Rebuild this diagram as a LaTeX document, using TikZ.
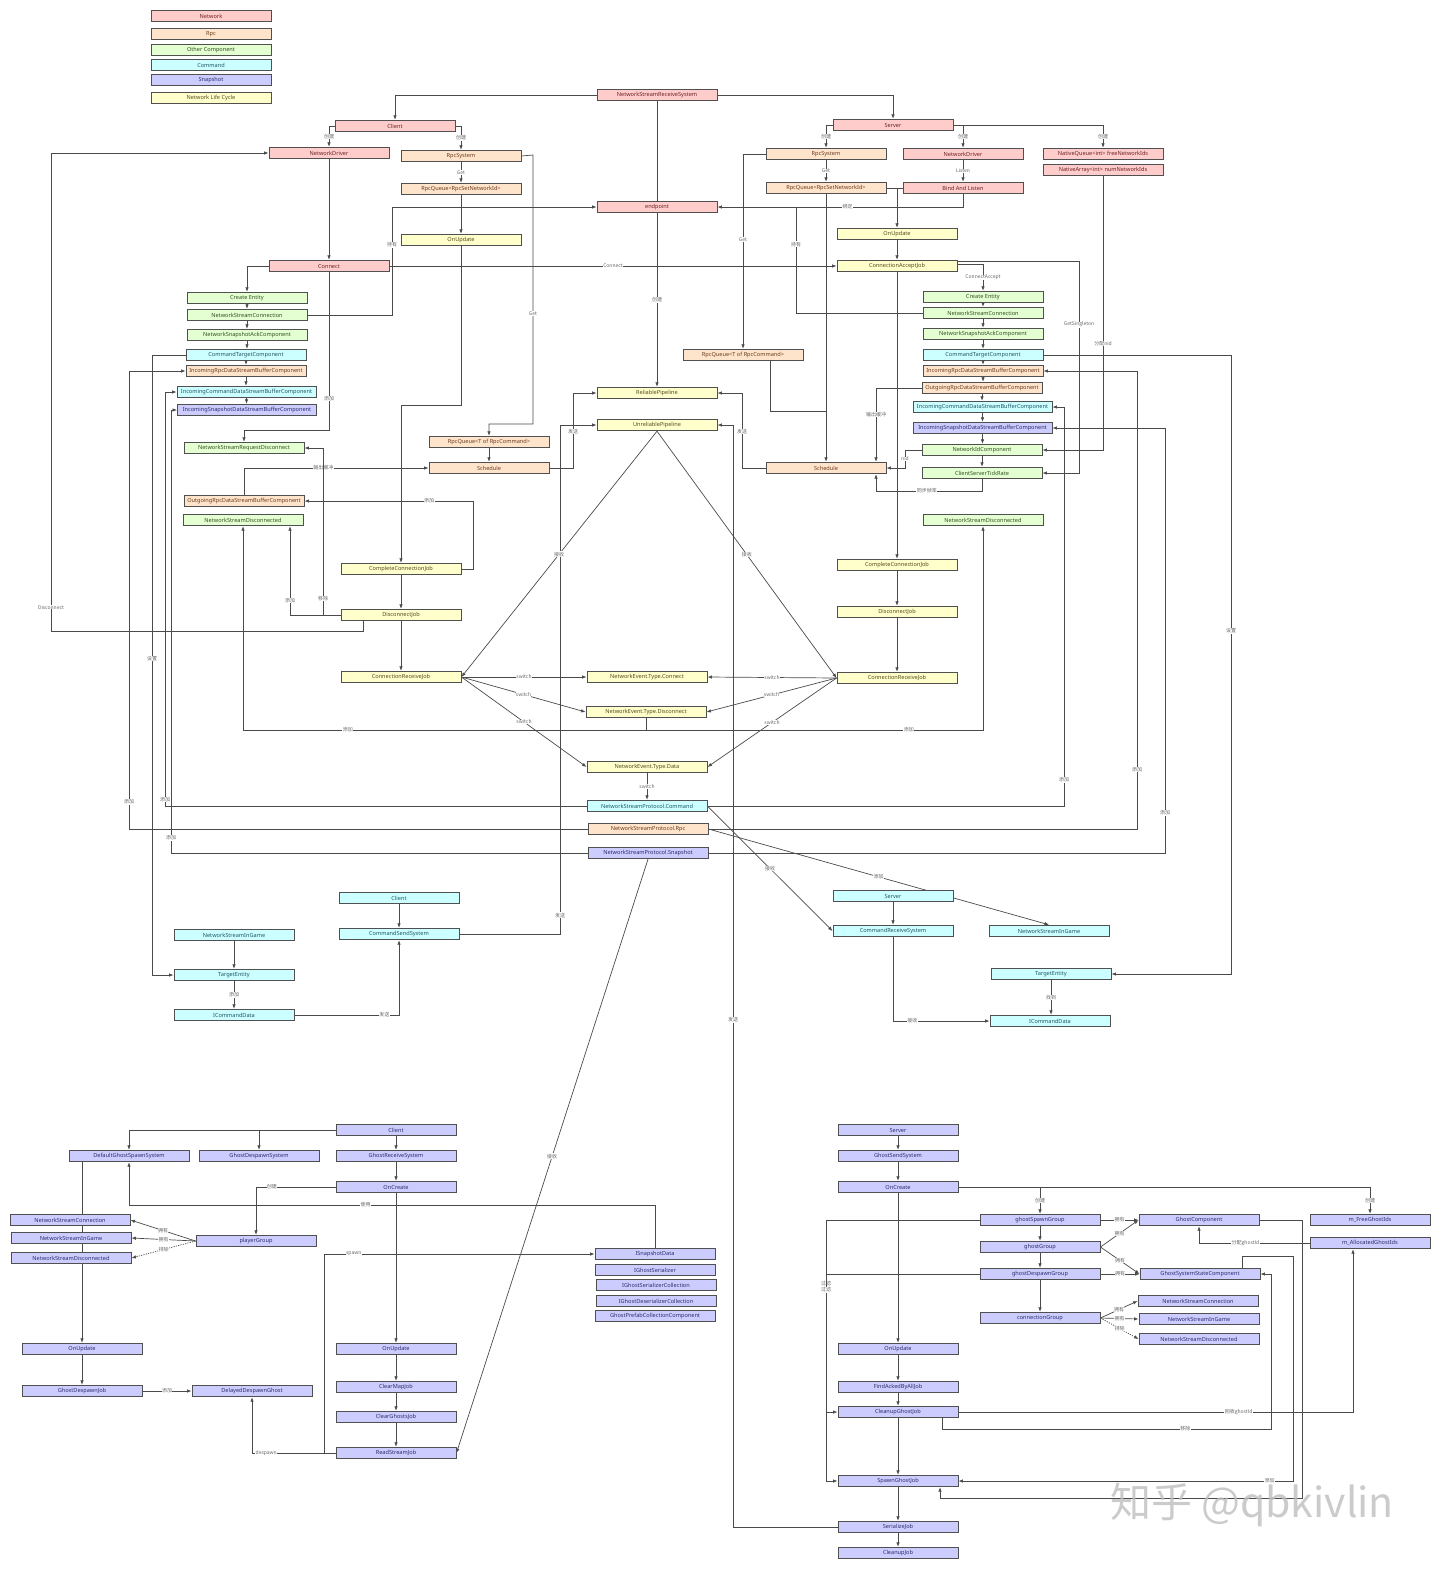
\documentclass[tikz,border=0pt]{standalone}
\usepackage{fontspec}
\setmainfont{Noto Sans}
\newfontfamily\cjk{Noto Sans CJK SC}
\usetikzlibrary{arrows.meta,backgrounds}
\definecolor{netF}{HTML}{FFCCCC}
\definecolor{rpcF}{HTML}{FFE4CC}
\definecolor{othF}{HTML}{E4FFD2}
\definecolor{cmdF}{HTML}{CCFFFF}
\definecolor{snapF}{HTML}{CCCCFF}
\definecolor{lifeF}{HTML}{FFFFCC}
\definecolor{netT}{HTML}{6B2020}
\definecolor{rpcT}{HTML}{6B3B1B}
\definecolor{othT}{HTML}{2F4F1F}
\definecolor{cmdT}{HTML}{1F5566}
\definecolor{snapT}{HTML}{2B2B6B}
\definecolor{lifeT}{HTML}{55491B}
\definecolor{boxc}{HTML}{505050}
\definecolor{linec}{HTML}{4A4A4A}
\definecolor{labc}{HTML}{666666}
\begin{document}
\begin{tikzpicture}[x=1pt,y=-1pt,
  box/.style={draw=boxc, line width=0.9pt, minimum width=120pt, minimum height=11.5pt, inner sep=0pt, font=\fontsize{5.6}{6}\selectfont},
  wide/.style={minimum width=139pt},
  net/.style={box, fill=netF, text=netT},
  rpc/.style={box, fill=rpcF, text=rpcT},
  oth/.style={box, fill=othF, text=othT},
  cmd/.style={box, fill=cmdF, text=cmdT},
  snap/.style={box, fill=snapF, text=snapT},
  life/.style={box, fill=lifeF, text=lifeT},
  ln/.style={draw=linec, line width=0.7pt},
  arr/.style={ln, -{Latex[length=4.5pt,width=3.5pt]}},
  darr/.style={arr, dash pattern=on 1.2pt off 1.2pt},
  lab/.style={font=\cjk\fontsize{5}{5.5}\selectfont, text=labc, fill=white, inner sep=0.4pt}
]
\useasboundingbox (0,0) rectangle (1440,1569);
% legend
\node[net] (lg1) at (211,16) {Network};
\node[rpc] (lg2) at (211,34) {Rpc};
\node[oth] (lg3) at (211,50) {Other Component};
\node[cmd] (lg4) at (211,65) {Command};
\node[snap] (lg5) at (211,80) {Snapshot};
\node[life] (lg6) at (211,98) {Network Life Cycle};
% top
\node[net] (nsrs) at (657,95) {NetworkStreamReceiveSystem};
\node[net] (client) at (395,126) {Client};
\node[net] (server) at (893,125) {Server};
\node[net] (cnd) at (329,153) {NetworkDriver};
\node[rpc] (crpc) at (461,156) {RpcSystem};
\node[rpc] (crq) at (461,189) {RpcQueue<RpcSetNetworkId>};
\node[life] (cupd) at (461,240) {OnUpdate};
\node[net] (endpoint) at (657,207) {endpoint};
\node[net] (cconnect) at (329,266) {Connect};
\node[oth] (cce) at (247,298) {Create Entity};
\node[oth] (cnsc) at (247,315) {NetworkStreamConnection};
\node[oth] (cack) at (247,335) {NetworkSnapshotAckComponent};
\node[cmd] (ccmdt) at (246,355) {CommandTargetComponent};
\node[rpc] (cinrpc) at (246,371) {IncomingRpcDataStreamBufferComponent};
\node[cmd,wide] (cincmd) at (246.5,392) {IncomingCommandDataStreamBufferComponent};
\node[snap,wide] (cinsnap) at (247,410) {IncomingSnapshotDataStreamBufferComponent};
\node[oth] (cnsrd) at (244,448) {NetworkStreamRequestDisconnect};
\node[rpc] (coutrpc) at (244,501) {OutgoingRpcDataStreamBufferComponent};
\node[oth] (cdisc) at (243,520) {NetworkStreamDisconnected};
\node[life] (cccj) at (401,569) {CompleteConnectionJob};
\node[life] (cdj) at (401,615) {DisconnectJob};
\node[life] (crcv) at (401,677) {ConnectionReceiveJob};
\node[rpc] (ccq) at (489,442) {RpcQueue<T of RpcCommand>};
\node[rpc] (cschd) at (489,468) {Schedule};
\node[life] (relp) at (657,393) {ReliablePipeline};
\node[life] (unrp) at (657,425) {UnreliablePipeline};
\node[rpc] (srcq) at (743,355) {RpcQueue<T of RpcCommand>};
\node[rpc] (sschd) at (826,468) {Schedule};
\node[life] (necon) at (647,677) {NetworkEvent.Type.Connect};
\node[life] (nedisc) at (646,712) {NetworkEvent.Type.Disconnect};
\node[life] (nedata) at (647,767) {NetworkEvent.Type.Data};
\node[cmd] (nspcmd) at (647,806) {NetworkStreamProtocol.Command};
\node[rpc] (nsprpc) at (648,829) {NetworkStreamProtocol.Rpc};
\node[snap] (nspsnap) at (648,853) {NetworkStreamProtocol.Snapshot};
\node[rpc] (srpc) at (826,154) {RpcSystem};
\node[rpc] (srq) at (826,188) {RpcQueue<RpcSetNetworkId>};
\node[net] (snd) at (963,154) {NetworkDriver};
\node[net] (bind) at (963,188) {Bind And Listen};
\node[net] (nq) at (1103,154) {NativeQueue<int> freeNetworkIds};
\node[net] (na) at (1103,170) {NativeArray<int> numNetworkIds};
\node[life] (supd) at (897,234) {OnUpdate};
\node[life] (sacc) at (897,266) {ConnectionAcceptJob};
\node[oth] (sce) at (983,297) {Create Entity};
\node[oth] (snsc) at (983,313) {NetworkStreamConnection};
\node[oth] (sack) at (983,334) {NetworkSnapshotAckComponent};
\node[cmd] (scmdt) at (983,355) {CommandTargetComponent};
\node[rpc] (sinrpc) at (983,371) {IncomingRpcDataStreamBufferComponent};
\node[rpc] (soutrpc) at (982,388) {OutgoingRpcDataStreamBufferComponent};
\node[cmd,wide] (sincmd) at (982.5,407) {IncomingCommandDataStreamBufferComponent};
\node[snap,wide] (sinsnap) at (982.5,428) {IncomingSnapshotDataStreamBufferComponent};
\node[oth] (snid) at (982,450) {NetworkIdComponent};
\node[oth] (stick) at (982,473) {ClientServerTickRate};
\node[oth] (sdisc) at (983,520) {NetworkStreamDisconnected};
\node[life] (sccj) at (897,565) {CompleteConnectionJob};
\node[life] (sdj) at (897,612) {DisconnectJob};
\node[life] (srcv) at (897,678) {ConnectionReceiveJob};
% command section
\node[cmd] (ccl) at (399,898) {Client};
\node[cmd] (csend) at (399,934) {CommandSendSystem};
\node[cmd] (cig) at (234,935) {NetworkStreamInGame};
\node[cmd] (ctgt) at (234,975) {TargetEntity};
\node[cmd] (cicd) at (234,1015) {ICommandData};
\node[cmd] (scmd) at (893,896) {Server};
\node[cmd] (crs) at (893,931) {CommandReceiveSystem};
\node[cmd] (sig) at (1049,931) {NetworkStreamInGame};
\node[cmd] (stgt) at (1051,974) {TargetEntity};
\node[cmd] (sicd) at (1050,1021) {ICommandData};
% ghost client
\node[snap] (gcl) at (396,1130) {Client};
\node[snap] (gdss) at (129,1156) {DefaultGhostSpawnSystem};
\node[snap] (gdsp) at (259,1156) {GhostDespawnSystem};
\node[snap] (grs) at (396,1156) {GhostReceiveSystem};
\node[snap] (gcoc) at (396,1187) {OnCreate};
\node[snap] (gnsc) at (70,1220) {NetworkStreamConnection};
\node[snap] (gnsig) at (71,1238) {NetworkStreamInGame};
\node[snap] (gnsd) at (71,1258) {NetworkStreamDisconnected};
\node[snap] (pg) at (256,1241) {playerGroup};
\node[snap] (gou) at (82,1349) {OnUpdate};
\node[snap] (gdj) at (82,1391) {GhostDespawnJob};
\node[snap] (ddg) at (252,1391) {DelayedDespawnGhost};
\node[snap] (gcou) at (396,1349) {OnUpdate};
\node[snap] (gcmj) at (396,1387) {ClearMapJob};
\node[snap] (gcgj) at (396,1417) {ClearGhostsJob};
\node[snap] (grsj) at (396,1453) {ReadStreamJob};
\node[snap] (isd) at (655,1254) {ISnapshotData};
\node[snap] (igs) at (655,1270) {IGhostSerializer};
\node[snap] (igsc) at (656,1285) {IGhostSerializerCollection};
\node[snap] (igdc) at (656,1301) {IGhostDeserializerCollection};
\node[snap] (gpcc) at (655,1316) {GhostPrefabCollectionComponent};
% ghost server
\node[snap] (gsv) at (898,1130) {Server};
\node[snap] (gss) at (898,1156) {GhostSendSystem};
\node[snap] (gsoc) at (898,1187) {OnCreate};
\node[snap] (gsou) at (898,1349) {OnUpdate};
\node[snap] (gfind) at (898,1387) {FindAckedByAllJob};
\node[snap] (gclean) at (898,1412) {CleanupGhostJob};
\node[snap] (gspawn) at (898,1481) {SpawnGhostJob};
\node[snap] (gser) at (898,1527) {SerializeJob};
\node[snap] (gcln) at (898,1553) {CleanupJob};
\node[snap] (gsg) at (1040,1220) {ghostSpawnGroup};
\node[snap] (gg) at (1040,1247) {ghostGroup};
\node[snap] (gdg) at (1040,1274) {ghostDespawnGroup};
\node[snap] (cg) at (1040,1318) {connectionGroup};
\node[snap] (gc) at (1199,1220) {GhostComponent};
\node[snap] (gssc) at (1200,1274) {GhostSystemStateComponent};
\node[snap] (gnsc2) at (1198,1301) {NetworkStreamConnection};
\node[snap] (gnsig2) at (1199,1319) {NetworkStreamInGame};
\node[snap] (gnsd2) at (1199,1339) {NetworkStreamDisconnected};
\node[snap] (mfree) at (1370,1220) {m\_FreeGhostIds};
\node[snap] (malloc) at (1370,1243) {m\_AllocatedGhostIds};

\begin{pgfonlayer}{background}
\fill[white] (0,0) rectangle (1440,1569);
% top network
\draw[arr] (nsrs.west) -| (client.north);
\draw[arr] (nsrs.east) -| (server.north);
\draw[ln] (nsrs.south) -- (endpoint.north);
\draw[arr] (endpoint.south) -- node[lab]{创建} (relp.north);
\draw[arr] (client.west) -- (329,126) -- node[lab]{创建} (cnd.north);
\draw[arr] (client.east) -- (461,126) -- node[lab]{创建} (crpc.north);
\draw[arr] (crpc.south) -- node[lab]{Get} (crq.north);
\draw[arr] (crq.south) -- (cupd.north);
\draw[arr] (cupd.south) -- (461,405) -- (401,405) -- (cccj.north);
\draw[arr] (cnd.south) -- (cconnect.north);
\draw[arr] ([xshift=-38pt]cdj.south) -- (363,631) -- (51,631) -- node[lab,pos=0.05]{Disconnect} (51,153) -- (cnd.west);
\draw[arr] (cconnect.west) -| (cce.north);
\draw[arr] (cconnect.east) -- node[lab,pos=0.5]{Connect} (sacc.west);
\draw[arr] (cconnect.south) -- node[lab,pos=0.8]{添加} (329,430) -| (cnsrd.north);
\foreach \a/\b in {cce/cnsc,cnsc/cack,cack/ccmdt,ccmdt/cinrpc,cinrpc/cincmd,cincmd/cinsnap}
  \draw[arr] (\a.south) -- (\a.south |- \b.north);
\draw[arr] (cnsc.east) -- (392,315) -- node[lab,pos=0.65]{持有} (392,207) -- (endpoint.west);
% server top
\draw[arr] (server.west) -- (826,125) -- node[lab]{创建} (srpc.north);
\draw[arr] (server.east) -- (963,125) -- node[lab]{创建} (snd.north);
\draw[arr] (963,125) -- (1103,125) -- node[lab]{创建} (nq.north);
\draw[arr] (srpc.south) -- node[lab]{Get} (srq.north);
\draw[arr] (snd.south) -- node[lab]{Listen} (bind.north);
\draw[ln] (srq.east) -- (bind.west);
\draw[arr] (897,188) -- (supd.north);
\draw[arr] (bind.south) -- (963,207) -- node[lab,pos=0.47]{绑定} (endpoint.east);
\draw[ln] (snsc.west) -- (796,313) -- node[lab,pos=0.65]{持有} (796,207);
\draw[arr] (supd.south) -- (sacc.north);
\draw[arr] ([yshift=2pt]sacc.east) -- (983,264) -- node[lab]{ConnectAccept} (sce.north);
\draw[arr] ([yshift=5pt]sacc.east) -- (1079,261) -- node[lab,pos=0.3]{GetSingleton} (1079,473) -- (stick.east);
\foreach \a/\b in {sce/snsc,snsc/sack,sack/scmdt,scmdt/sinrpc,sinrpc/soutrpc,soutrpc/sincmd,sincmd/sinsnap,sinsnap/snid,snid/stick}
  \draw[arr] (\a.south) -- (\a.south |- \b.north);
\draw[arr] (na.south) -- node[lab,pos=0.61]{分配nid} (1103,450) -- (snid.east);
\draw[arr] (scmdt.east) -- (1231,355) -- node[lab,pos=0.446]{设置} (1231,974) -- (stgt.east);
\draw[arr] (nsprpc.east) -- (1137,829) -- node[lab,pos=0.13]{添加} (1137,371) -- (sinrpc.east);
\draw[arr] (nspcmd.east) -- (1064,806) -- node[lab,pos=0.065]{添加} (1064,407) -- (sincmd.east);
\draw[arr] (nspsnap.east) -- (1165,853) -- node[lab,pos=0.094]{添加} (1165,428) -- (sinsnap.east);
\draw[arr] (soutrpc.west) -- (876,388) -- node[lab,pos=0.36]{输出缓冲} ([xshift=50pt]sschd.north);
\draw[arr] (snid.west) -- (905,450) -- node[lab]{nid} (905,468) -- (sschd.east);
\draw[arr] (stick.south) -- (982,491) -- node[lab,pos=0.52]{同步帧率} (876,491) -- ([xshift=50pt]sschd.south);
\draw[arr] (srq.south) -- (sschd.north);
\draw[ln] ([xshift=27pt]srcq.south) -- (770,411) -- (826,411);
\draw[arr] (srpc.west) -- (743,154) -- node[lab,pos=0.44]{Get} (srcq.north);
% rpc client
\draw[arr] (crpc.east) -- (533,155) -- node[lab,pos=0.59]{Get} (533,424) -- (489,424) -- (ccq.north);
\draw[arr] (ccq.south) -- (cschd.north);
\draw[arr] (cschd.east) -- (573,468) -- node[lab,pos=0.49]{发送} (573,393) -- (relp.west);
\draw[arr] (csend.east) -- (560,934) -- node[lab,pos=0.037]{发送} (560,425) -- (unrp.west);
\draw[arr] (sschd.west) -- (742,468) -- node[lab,pos=0.49]{发送} (742,393) -- (relp.east);
\draw[arr] (gser.west) -- (733,1527) -- node[lab,pos=0.46]{发送} (733,425) -- (unrp.east);
\draw[arr] (coutrpc.north) -- (244,468) -- node[lab,pos=0.43]{输出缓冲} (cschd.west);
\draw[arr] (cdj.west) -- (323,615) -- node[lab,pos=0.1]{移除} (323,448) -- (cnsrd.east);
\draw[arr] (cdj.west) -- (290,615) -- node[lab,pos=0.16]{添加} ([xshift=47pt]cdisc.south);
\draw[arr] (cccj.east) -- (473,569) -- (473,501) -- node[lab,pos=0.26]{添加} (coutrpc.east);
\draw[arr] (cccj.south) -- (cdj.north);
\draw[arr] (cdj.south) -- (crcv.north);
\draw[ln] (nedisc.south) -- (646,730);
\draw[arr] (646,730) -- node[lab,pos=0.74]{添加} (243,730) -- (cdisc.south);
\draw[arr] (646,730) -- node[lab,pos=0.78]{添加} (983,730) -- (sdisc.south);
\draw[arr] (sacc.south) -- (sccj.north);
\draw[arr] (sccj.south) -- (sdj.north);
\draw[arr] (sdj.south) -- (srcv.north);
\draw[arr] (unrp.south) -- node[lab]{接收} (crcv.east);
\draw[arr] (unrp.south) -- node[lab]{接收} (srcv.west);
\draw[arr] (crcv.east) -- node[lab]{switch} (necon.west);
\draw[arr] (crcv.east) -- node[lab]{switch} (nedisc.west);
\draw[arr] (crcv.east) -- node[lab]{switch} (nedata.west);
\draw[arr] (srcv.west) -- node[lab]{switch} (necon.east);
\draw[arr] (srcv.west) -- node[lab]{switch} (nedisc.east);
\draw[arr] (srcv.west) -- node[lab]{switch} (nedata.east);
\draw[arr] (nedata.south) -- node[lab]{switch} (nspcmd.north);
\draw[arr] (nspcmd.west) -- (165,806) -- node[lab,pos=0.015]{添加} (165,392) -- (cincmd.west);
\draw[arr] (nsprpc.west) -- (129,829) -- node[lab,pos=0.059]{添加} (129,371) -- (cinrpc.west);
\draw[arr] (nspsnap.west) -- (171,853) -- node[lab,pos=0.034]{添加} (171,410) -- (cinsnap.west);
\draw[arr] (ccmdt.west) -- (152,355) -- node[lab,pos=0.49]{设置} (152,975) -- (ctgt.west);
% command section
\draw[arr] (nspcmd.east) -- node[lab]{接收} (crs.west);
\draw[arr] (nsprpc.east) -- node[lab,pos=0.5]{添加} (sig.north);
\draw[arr] (scmd.south) -- (crs.north);
\draw[arr] (crs.south) -- (893,1021) -- node[lab,pos=0.2]{接收} (sicd.west);
\draw[arr] (stgt.south) -- node[lab]{找到} (stgt.south |- sicd.north);
\draw[arr] (ccl.south) -- (csend.north);
\draw[arr] (cig.south) -- (ctgt.north);
\draw[arr] (ctgt.south) -- node[lab]{添加} (cicd.north);
\draw[arr] (cicd.east) -- node[lab,pos=0.86]{发送} (399,1015) -- (csend.south);
\draw[arr] (nspsnap.south) -- node[lab,pos=0.5]{接收} (grsj.east);
% ghost client
\draw[arr] (gcl.west) -| (gdss.north);
\draw[arr] (259,1130) -- (gdsp.north);
\draw[arr] (gcl.south) -- (grs.north);
\draw[arr] (grs.south) -- (gcoc.north);
\draw[arr] (gcoc.south) -- (gcou.north);
\draw[arr] (gcou.south) -- (gcmj.north);
\draw[arr] (gcmj.south) -- (gcgj.north);
\draw[arr] (gcgj.south) -- (grsj.north);
\draw[arr] (gcoc.west) -- node[lab,pos=0.8]{创建} (256,1187) -- (pg.north);
\draw[arr] (isd.north) -- (655,1205) -- node[lab,pos=0.55]{使用} (129,1205) -- (gdss.south);
\draw[arr] (grsj.west) -- (324,1453) -- (324,1254) -- node[lab,pos=0.11]{spawn} (isd.west);
\draw[arr] (grsj.west) -- node[lab,pos=0.83]{despawn} (252,1453) -- (ddg.south);
\draw[arr] (gou.north |- gdss.south) -- (gou.north);
\draw[arr] (gou.south) -- (gdj.north);
\draw[arr] (gdj.east) -- node[lab]{添加} (ddg.west);
\draw[arr] (pg.west) -- node[lab]{拥有} (gnsc.east);
\draw[arr] (pg.west) -- node[lab]{拥有} (gnsig.east);
\draw[darr] (pg.west) -- node[lab]{排除} (gnsd.east);
% ghost server
\draw[arr] (gsv.south) -- (gss.north);
\draw[arr] (gss.south) -- (gsoc.north);
\draw[arr] (gsoc.south) -- (gsou.north);
\draw[arr] (gsou.south) -- (gfind.north);
\draw[arr] (gfind.south) -- (gclean.north);
\draw[arr] (gclean.south) -- (gspawn.north);
\draw[arr] (gspawn.south) -- (gser.north);
\draw[arr] (gser.south) -- (gcln.north);
\draw[arr] (gsoc.east) -- (1040,1187) -- node[lab]{创建} (gsg.north);
\draw[arr] (1040,1187) -- (1370,1187) -- node[lab]{创建} (mfree.north);
\draw[arr] (gsg.south) -- (gg.north);
\draw[arr] (gg.south) -- (gdg.north);
\draw[arr] (gdg.south) -- (cg.north);
\draw[arr] (gsg.east) -- node[lab]{拥有} (gc.west);
\draw[arr] (gg.east) -- node[lab]{拥有} (gc.west);
\draw[arr] (gg.east) -- node[lab]{拥有} (gssc.west);
\draw[arr] (gdg.east) -- node[lab]{拥有} (gssc.west);
\draw[arr] (cg.east) -- node[lab]{拥有} (gnsc2.west);
\draw[arr] (cg.east) -- node[lab]{拥有} (gnsig2.west);
\draw[darr] (cg.east) -- node[lab]{排除} (gnsd2.west);
\draw[arr] (malloc.west) -- node[lab,pos=0.58]{分配ghostId} (1199,1243) -- (gc.south);
\draw[arr] (gclean.east) -- node[lab,pos=0.71]{回收ghostId} (1353,1412) -- ([xshift=-17pt]malloc.south);
\draw[arr] ([xshift=44pt]gclean.south) -- (942,1429) -- node[lab,pos=0.74]{移除} (1271,1429) -- (1271,1274) -- (gssc.east);
\draw[arr] ([xshift=42pt]gssc.north) -- (1242,1256) -- (1293,1256) -- (1293,1481) -- node[lab,pos=0.07]{添加} (gspawn.east);
\draw[arr] (gc.east) -- (1302,1220) -- (1302,1498) -- (940,1498) -- ([xshift=42pt]gspawn.south);
\draw[arr] (gsg.west) -- (826,1220) -- node[lab,pos=0.245]{过滤} (826,1481) -- (gspawn.west);
\draw[arr] (gdg.west) -- (826,1274) -- node[lab,pos=0.116]{过滤} (826,1412) -- (gclean.west);
\end{pgfonlayer}
% watermark
\node[text=black!25, opacity=0.8, font=\cjk\fontsize{41}{43}\selectfont, inner sep=0pt] (wm) at (1252,1505) {知乎 @qbkivlin};
\end{tikzpicture}
\end{document}
